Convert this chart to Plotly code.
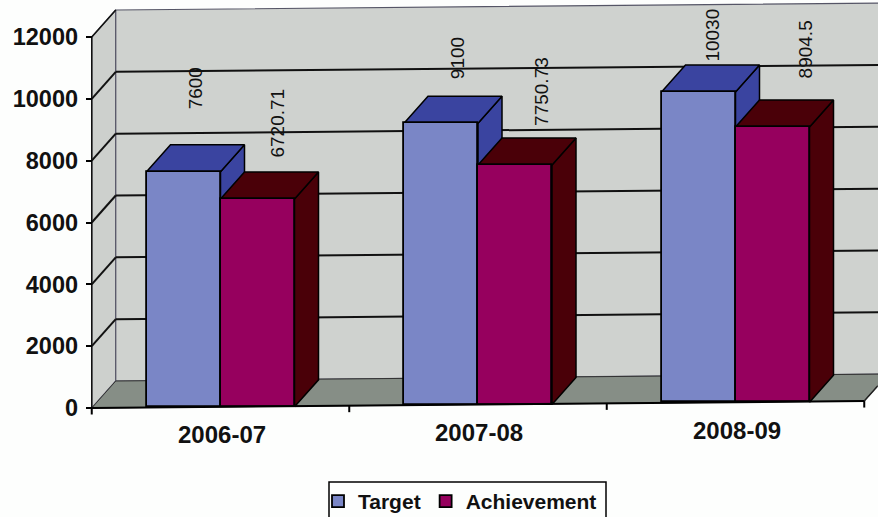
import plotly.graph_objects as go

categories = ["2006-07", "2007-08", "2008-09"]
target = [7600, 9100, 10030]
achievement = [6720.71, 7750.73, 8904.5]
y_ticks = [0, 2000, 4000, 6000, 8000, 10000, 12000]

W, H = 878, 517
PX_X = 257.5          # px per category
X0_PX = 220.5         # px of first category
PX_Y = 371 / 12000    # px per value unit
Y0_PX = 408
BAR_W = 74 / PX_X
DEPTH_X = 24 / PX_X
DEPTH_Y = 27 / PX_Y
TILT = 0.009 * PX_X / PX_Y  # floor slope, value units per category
XL, XR = -0.5, 2.5

x_range = [-X0_PX / PX_X, (W - X0_PX) / PX_X]
y_range = [-(H - Y0_PX) / PX_Y, Y0_PX / PX_Y]


def rise(x):
    return TILT * (x - XL)


def proj(x, v, d=0.0):
    """Oblique projection of (category position, value, depth) into axis units."""
    return x + DEPTH_X * d, v + rise(x) + DEPTH_Y * d


def poly(points, fill, line="black", lw=1.5, axes=("x", "y")):
    xs, ys = zip(*points)
    return go.Scatter(x=list(xs) + [xs[0]], y=list(ys) + [ys[0]], mode="lines", fill="toself",
                      fillcolor=fill, line=dict(color=line, width=lw), hoverinfo="skip",
                      showlegend=False, xaxis=axes[0], yaxis=axes[1])


def seg(a, b, color="#111", lw=1.5, axes=("x", "y")):
    return go.Scatter(x=[a[0], b[0]], y=[a[1], b[1]], mode="lines", line=dict(color=color, width=lw),
                      hoverinfo="skip", showlegend=False, xaxis=axes[0], yaxis=axes[1])


fig = go.Figure()
top = y_ticks[-1]
FAR = XR + 0.2

# Walls and floor
fig.add_trace(poly([proj(XL, 0, 0), proj(XL, top, 0), proj(XL, top, 1), proj(XL, 0, 1)], "#cdd0cd", "#556", 1.2))
fig.add_trace(poly([proj(XL, 0, 1), proj(XL, top, 1), proj(FAR, top, 1), proj(FAR, 0, 1)], "#cfd2cf", "#556", 1.2))
fig.add_trace(poly([proj(XL, 0, 0), proj(XL, 0, 1), proj(XR, 0, 1), proj(XR, 0, 0)], "#868e86", "#333", 1))

# Grid lines on walls
for t in y_ticks[1:-1]:
    fig.add_trace(seg(proj(XL, t, 0), proj(XL, t, 1), lw=2))
    fig.add_trace(seg(proj(XL, t, 1), proj(FAR, t, 1), lw=2))
fig.add_trace(seg(proj(XL, top, 0), proj(XL, top, 1), lw=1.5))

# Depth faces of the bars (drawn under the front faces)
for i in range(len(categories)):
    for vals, x0, c_top, c_side in ((target, i - BAR_W, "#3a44a0", "#3a44a0"),
                                    (achievement, i, "#4a0008", "#4a0008")):
        v = vals[i] + rise(i)
        x1 = x0 + BAR_W
        base = rise(i)
        fig.add_trace(poly([(x1, base), (x1, v), (x1 + DEPTH_X, v + DEPTH_Y), (x1 + DEPTH_X, base + DEPTH_Y)], c_side))
        fig.add_trace(poly([(x0, v), (x0 + DEPTH_X, v + DEPTH_Y), (x1 + DEPTH_X, v + DEPTH_Y), (x1, v)], c_top))

# Front faces, on an overlay pair of axes so they sit above the depth faces
bases = [rise(i) for i in range(len(categories))]
pos = list(range(len(categories)))
fig.add_trace(go.Bar(name="Target", x=pos, y=target, base=bases, width=BAR_W, offset=-BAR_W,
                     marker=dict(color="#7a86c6", line=dict(color="black", width=1.8)),
                     xaxis="x2", yaxis="y2"))
fig.add_trace(go.Bar(name="Achievement", x=pos, y=achievement, base=bases, width=BAR_W, offset=0,
                     marker=dict(color="#96005e", line=dict(color="black", width=1.8)),
                     xaxis="x2", yaxis="y2"))

# Floor front edge, axis line, tick marks
ax2 = ("x2", "y2")
fig.add_trace(seg(proj(XL, 0, 0), proj(XR, 0, 0), "black", 2, ax2))
fig.add_trace(seg(proj(XL, 0, 0), proj(XL, top, 0), "#111", 1.5, ax2))
fig.add_trace(seg(proj(XR, 0, 0), proj(XR, 0, 0.55), "#222", 1.5, ax2))
for k in range(len(categories) + 1):
    x = XL + k
    px, py = proj(x, 0, 0)
    fig.add_trace(seg((px, py), (px, py - 6.5 / PX_Y), "black", 2, ax2))

LABEL_FONT = "Liberation Sans, Arial, sans-serif"
annotations = []
# Rotated value labels: px right of bar centre, px above bar top
label_dx = [[12, 20], [16, 27], [14, 33]]
label_dy = [[83, 76], [65, 73], [57, 77]]
for i in range(len(categories)):
    for j, (vals, cx) in enumerate(((target, i - BAR_W / 2), (achievement, i + BAR_W / 2))):
        annotations.append(dict(x=cx, y=vals[i] + rise(i), xref="x2", yref="y2", text=str(vals[i]),
                                showarrow=False, textangle=-90, xanchor="center", yanchor="middle",
                                xshift=label_dx[i][j], yshift=label_dy[i][j],
                                font=dict(family=LABEL_FONT, size=19, color="#111")))
    annotations.append(dict(x=i, y=rise(i), xref="x2", yref="y2", text=f"<b>{categories[i]}</b>",
                            showarrow=False, xanchor="center", yanchor="middle", xshift=1, yshift=-28,
                            font=dict(family=LABEL_FONT, size=24, color="#111")))

axis_off = dict(visible=False, fixedrange=True)
fig.update_layout(
    width=W, height=H, margin=dict(l=0, r=0, t=0, b=0, autoexpand=False),
    paper_bgcolor="#fdfefd", plot_bgcolor="rgba(0,0,0,0)",
    barmode="overlay", bargap=0,
    xaxis=dict(range=x_range, domain=[0, 1], **axis_off),
    yaxis=dict(range=y_range, domain=[0, 1], anchor="free", position=(X0_PX + XL * PX_X) / W, side="left",
               tickmode="array", tickvals=y_ticks, ticktext=[f"<b>{t}</b>" for t in y_ticks],
               ticks="outside", ticklen=6, tickwidth=2, tickcolor="black", showgrid=False, zeroline=False,
               showline=False, ticklabelstandoff=3,
               tickfont=dict(family=LABEL_FONT, size=23.5, color="#111"), fixedrange=True),
    xaxis2=dict(range=x_range, overlaying="x", **axis_off),
    yaxis2=dict(range=y_range, overlaying="y", **axis_off),
    legend=dict(orientation="h", x=318 / W, y=1 - 481 / H, xanchor="left", yanchor="top",
                bgcolor="rgba(0,0,0,0)", borderwidth=0,
                font=dict(family=LABEL_FONT, size=21, color="#111", weight="bold")),
    shapes=[dict(type="rect", xref="paper", yref="paper", x0=329 / W, x1=606 / W, y0=-0.02, y1=1 - 482 / H,
                 line=dict(color="black", width=1.5), fillcolor="#fdfefd", layer="below")],
    annotations=annotations, showlegend=True,
)
fig.write_html("out.html", config=dict(displayModeBar=False),
               post_script="document.body.style.margin='0';document.body.style.overflow='hidden';")
